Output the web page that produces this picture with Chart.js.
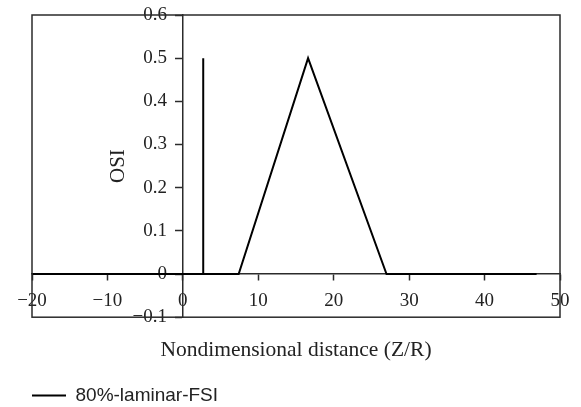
<!DOCTYPE html>
<html>
<head>
<meta charset="utf-8">
<script src="https://cdn.jsdelivr.net/npm/chart.js@4.4.1/dist/chart.umd.min.js"></script>
<style>
  html, body { margin: 0; padding: 0; background: #fff; }
  #caixa { width: 581px; height: 407px; }
</style>
</head>
<body>
<div id="caixa"><canvas id="grafico"></canvas></div>
<script>
// dados
const distancia = [-20, 2.7, 2.7, 2.7, 7.4, 16.6, 27.0, 46.9];
const osi = [0, 0, 0.5, 0, 0, 0.5, 0, 0];
const nomeSerie = '80%-laminar-FSI';
const xMin = -20, xMax = 50, xPasso = 10;
const yMin = -0.1, yMax = 0.6, yPasso = 0.1;

const corEixo = '#2b2b2b';
const serif = "'Liberation Serif', 'DejaVu Serif', serif";

const pontos = distancia.map((d, i) => ({ x: d, y: osi[i] }));

// moldura + rotulo OSI (texto deitado pra cima)
const moldura = {
    id: 'moldura',
    afterDraw(chart) {
        const { ctx, chartArea: a } = chart;
        ctx.save();
        ctx.strokeStyle = corEixo;
        ctx.lineWidth = 1.5;
        ctx.strokeRect(a.left, a.top, a.right - a.left, a.bottom - a.top);

        const x0 = chart.scales.x.getPixelForValue(0);
        ctx.translate(x0 - 64, (a.top + a.bottom) / 2);
        ctx.rotate(-Math.PI / 2);
        ctx.fillStyle = '#222';
        ctx.font = '21px ' + serif;
        ctx.textAlign = 'center';
        ctx.textBaseline = 'middle';
        ctx.fillText('OSI', 0, 0);
        ctx.restore();
    }
};

const ctx = document.getElementById('grafico').getContext('2d');
const chartOsi = new Chart(ctx, {
    type: 'line',
    data: {
        datasets: [{
            label: nomeSerie,
            data: pontos,
            borderColor: '#000',
            backgroundColor: '#000',
            borderWidth: 2,
            pointRadius: 0,
            tension: 0,
            fill: false
        }]
    },
    options: {
        responsive: true,
        maintainAspectRatio: false,
        animation: false,
        layout: { padding: { left: 32, right: 21, top: 15, bottom: -8 } },
        scales: {
            x: {
                type: 'linear',
                position: { y: 0 },
                min: xMin,
                max: xMax,
                ticks: {
                    stepSize: xPasso,
                    color: '#222',
                    font: { family: serif, size: 19 },
                    padding: 10,
                    maxRotation: 0,
                    callback: v => String(v).replace('-', '\u2212')
                },
                grid: { drawOnChartArea: false, drawTicks: true, tickLength: 6, color: corEixo, tickWidth: 1.5 },
                border: { display: true, color: corEixo, width: 1.5 }
            },
            y: {
                type: 'linear',
                position: { x: 0 },
                min: yMin,
                max: yMax,
                ticks: {
                    stepSize: yPasso,
                    color: '#222',
                    font: { family: serif, size: 19 },
                    // eixo no meio nao aplica padding, entao o espaco vai no texto
                    callback: v => (Math.round(v * 10) / 10).toString().replace('-', '\u2212') + '\u2002\u2004'
                },
                grid: { drawOnChartArea: false, drawTicks: true, tickLength: 7, color: corEixo, tickWidth: 1.5 },
                border: { display: true, color: corEixo, width: 1.5 }
            },
            // eixo so pro titulo de baixo
            xt: {
                type: 'linear',
                position: 'bottom',
                display: true,
                ticks: { display: false },
                grid: { display: false, drawTicks: false },
                border: { display: false },
                title: {
                    display: true,
                    text: 'Nondimensional distance (Z/R)',
                    color: '#222',
                    font: { family: serif, size: 21.5 },
                    padding: { top: 20, bottom: 23 }
                }
            }
        },
        plugins: {
            legend: {
                position: 'bottom',
                align: 'start',
                labels: {
                    boxWidth: 34,
                    boxHeight: 0,
                    padding: 0,
                    color: '#222',
                    font: { family: "'Liberation Sans', Arial, sans-serif", size: 19 }
                }
            },
            tooltip: { enabled: false }
        }
    },
    plugins: [moldura]
});
</script>
</body>
</html>
